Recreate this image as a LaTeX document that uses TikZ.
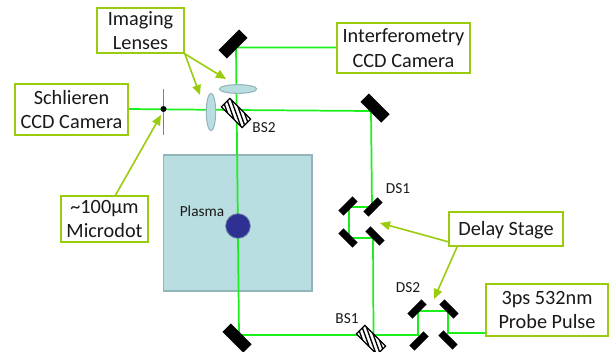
\documentclass[tikz,border=0pt]{standalone}
\usepackage{fontspec}
\setmainfont{Carlito}
\usetikzlibrary{arrows.meta,shapes.geometric}
\definecolor{lime}{HTML}{9BCB0F}
\definecolor{beam}{HTML}{1CF01C}
\definecolor{pale}{HTML}{B9DEE1}
\definecolor{paleedge}{HTML}{93B5BA}
\definecolor{dotblue}{HTML}{2E3192}
\tikzset{
  labelbox/.style={draw=lime,line width=1.4pt,fill=white,align=center,font=\fontsize{15.2}{18.6}\selectfont,inner sep=0pt,text=black!90,execute at begin node={\rule{0pt}{13pt}}},
  ray/.style={draw=beam,line width=1.3pt,line join=miter},
  pointer/.style={draw=lime,line width=1.2pt,-{Triangle[length=7.5pt,width=6.5pt]}},
  bigmirror/.style={fill=black,inner sep=0pt,minimum width=22pt,minimum height=9pt},
  smallmirror/.style={fill=black,inner sep=0pt,minimum width=15pt,minimum height=5.5pt},
  splitter/.style={draw=black,line width=0.9pt,fill=white,inner sep=0pt,minimum width=22pt,minimum height=9pt,
    path picture={\foreach \k in {-3,...,3}{\draw[black,line width=1pt] ([shift={(\k*7pt+9.5pt,-4.5pt)}]path picture bounding box.center) -- ([shift={(\k*7pt-9.5pt,4.5pt)}]path picture bounding box.center);}}},
  lens/.style={draw=paleedge,line width=0.8pt,fill=pale},
  tag/.style={font=\fontsize{11.5}{14}\selectfont,text=black!90,inner sep=0pt}
}
\begin{document}
\begin{tikzpicture}[x=0.75pt,y=-0.75pt]
\useasboundingbox (0,0) rectangle (609,351);
% plasma region
\node[draw=paleedge,line width=1pt,fill=pale,inner sep=0pt,minimum width=111.5pt,minimum height=102pt] (region) at (237.5,223) {};
% way points of the beam
\coordinate (p1) at (486,333);
\coordinate (p2) at (448,333);
\coordinate (p3) at (448,311);
\coordinate (p4) at (418,311);
\coordinate (p5) at (418,335);
\coordinate (p6) at (239,335);
\coordinate (p7) at (236,47.5);
\coordinate (p8) at (337,47.5);
\coordinate (q1) at (373.5,335);
\coordinate (q2) at (373,238);
\coordinate (q3) at (349,238);
\coordinate (q4) at (349,207);
\coordinate (q5) at (372,207);
\coordinate (q6) at (371,111);
\coordinate (q7) at (128,109);
\coordinate (q8) at (236,110);
% beams
\draw[ray] (p1) -- (p2) -- (p3) -- (p4) -- (p5) -- (p6) -- (p7) -- (p8);
\draw[ray] (q1) -- (q2) -- (q3) -- (q4) -- (q5) -- (q6) -- (q8) -- (q7);
% mirrors
\node[bigmirror,rotate=45] (m1) at (233,44) {};
\node[bigmirror,rotate=-45] (m2) at (375,108) {};
\node[bigmirror,rotate=-45] (m3) at (237,338) {};
\node[smallmirror,rotate=45] (d1) at (348,206) {};
\node[smallmirror,rotate=45] (d2) at (373,207) {};
\node[smallmirror,rotate=-45] (d3) at (348,238) {};
\node[smallmirror,rotate=-45] (d4) at (375,236) {};
\node[smallmirror,rotate=45] (e1) at (417,309) {};
\node[smallmirror,rotate=-45] (e2) at (449,309) {};
\node[smallmirror,rotate=45] (e3) at (419,341) {};
\node[smallmirror,rotate=-45] (e4) at (448,340) {};
% splitters
\node[splitter,rotate=-45] (bs2) at (236,113) {};
\node[splitter,rotate=-45] (bs1) at (371,340) {};
% lenses
\path[lens] (211,112) ellipse [x radius=3.5pt,y radius=14pt];
\path[lens] (238,89) ellipse [x radius=14pt,y radius=3.25pt];
% microdot
\coordinate (s1) at (163.5,89);
\coordinate (s2) at (163.5,135);
\draw[draw=black!50,line width=1.2pt] (s1) -- (s2);
\node[circle,fill=black,inner sep=0pt,minimum size=4.5pt] (dot) at (163.5,109) {};
% plasma
\node[circle,draw=paleedge!60!dotblue,line width=0.6pt,fill=dotblue,inner sep=0pt,minimum size=18.5pt] (plasma) at (238,226) {};
% label boxes
\node[labelbox,minimum width=65pt,minimum height=33.5pt] (img) at (140.5,30.5) {Imaging\\Lenses};
\node[labelbox,minimum width=99.5pt,minimum height=37.5pt] (intf) at (403.5,48) {Interferometry\\CCD Camera};
\node[labelbox,minimum width=84.5pt,minimum height=38pt] (sch) at (71.5,109.5) {Schlieren\\CCD Camera};
\node[labelbox,minimum width=65pt,minimum height=34.5pt] (mic) at (104.5,219) {\textasciitilde100µm\\Microdot};
\node[labelbox,minimum width=85.5pt,minimum height=25pt] (del) at (506,229) {Delay Stage};
\node[labelbox,minimum width=91.5pt,minimum height=39pt] (probe) at (547,310) {3ps 532nm\\Probe Pulse};
% pointers
\coordinate (t1) at (200,95);
\coordinate (t2) at (226,79);
\coordinate (t3) at (161,115);
\coordinate (t4) at (380,223);
\coordinate (t5) at (434,299);
\coordinate (f3) at (115,196);
\coordinate (f4) at (449,242);
\coordinate (f5) at (457,247);
\draw[pointer] (img.south east) -- (t1);
\draw[pointer] (img.south east) -- (t2);
\draw[pointer] (f3) -- (t3);
\draw[pointer] (f4) -- (t4);
\draw[pointer] (f5) -- (t5);
% small labels
\node[tag] (tbs2) at (264,128) {BS2};
\node[tag] (tbs1) at (347,319) {BS1};
\node[tag] (tds1) at (398,189) {DS1};
\node[tag] (tds2) at (408,288) {DS2};
\node[tag] (tpl) at (202,211) {Plasma};
\end{tikzpicture}
\end{document}
